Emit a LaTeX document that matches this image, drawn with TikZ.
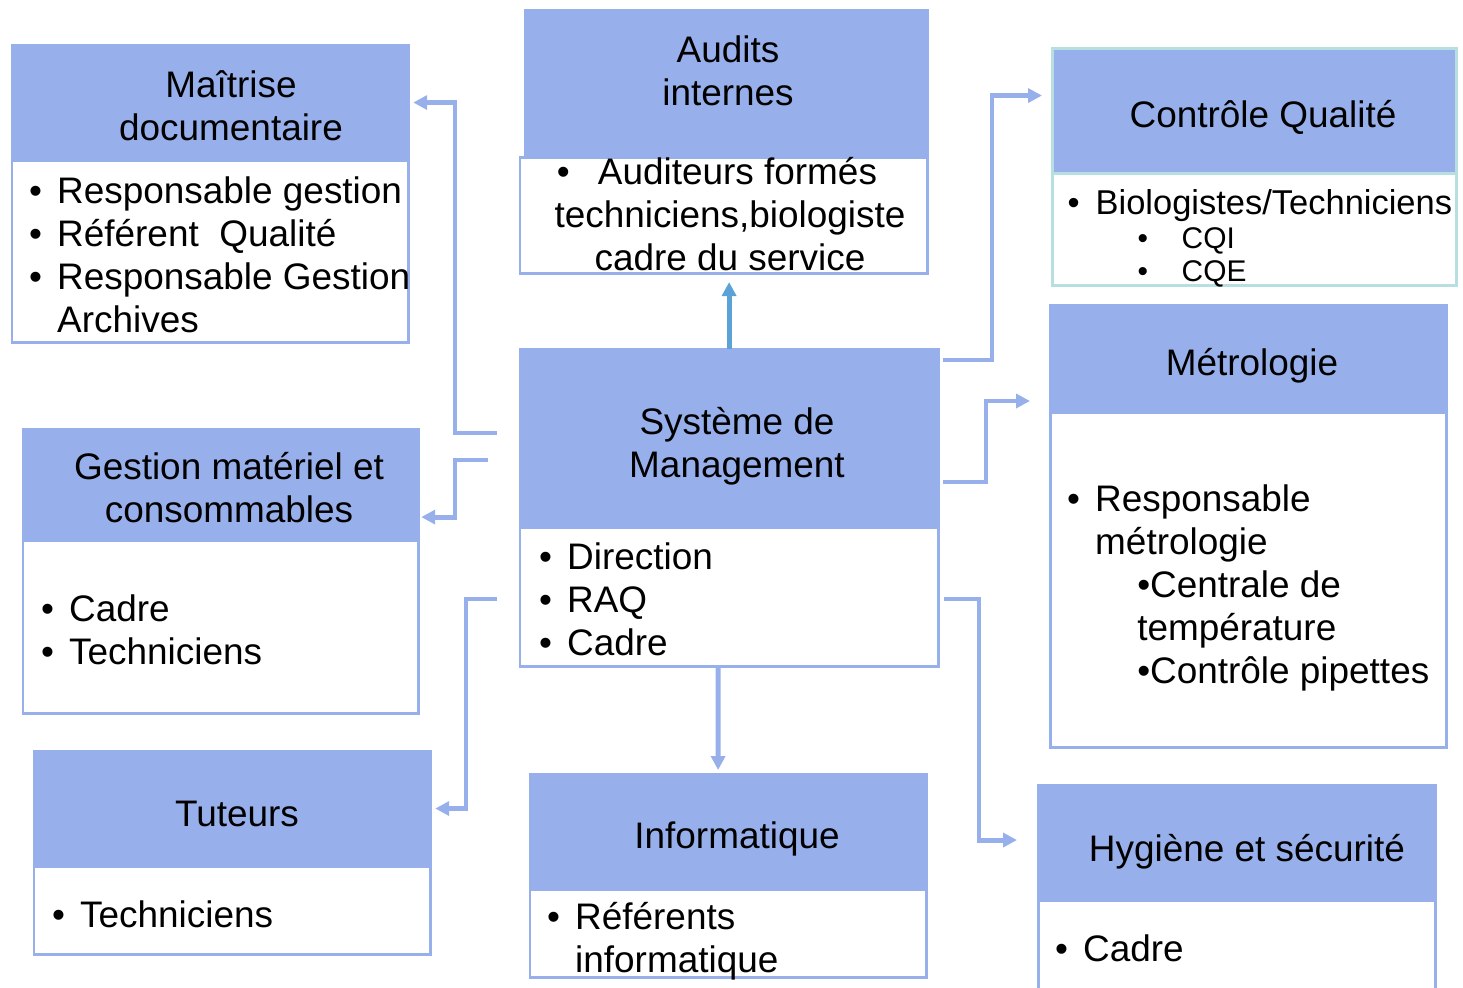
\documentclass[tikz,border=0pt]{standalone}
\usepackage{fontspec}
\setmainfont{Liberation Sans}
\usetikzlibrary{arrows.meta,calc}
\definecolor{bleuT}{RGB}{151,176,236}
\definecolor{bleuF}{RGB}{91,163,214}
\definecolor{turq}{RGB}{183,222,224}
\newcommand{\puce}{\makebox[0.28cm][l]{\textbullet}}
\newcommand{\retrait}{\hspace*{0.28cm}}
\begin{document}
\begin{tikzpicture}[x=0.01cm,y=-0.01cm,>={Triangle[length=0.14cm,width=0.14cm]},
	font=\fontsize{10.5}{12.2}\selectfont,
	tete/.style={draw=bleuT,fill=bleuT,line width=0.85pt,anchor=north west,inner sep=0pt,outer sep=0pt},
	corps/.style={draw=bleuT,fill=white,line width=0.85pt,anchor=north west,inner sep=0pt,outer sep=0pt},
	titre/.style={align=center,inner sep=0pt},
	liste/.style={align=left,anchor=north west,inner sep=0pt},
	lien/.style={draw=bleuT,line width=1.4pt}]
	\useasboundingbox (0,0) rectangle (1463,987);
	% les cadres
	\node[tete,minimum width=3.96cm,minimum height=1.15cm] (maitreH) at (12,45) {};
	\node[corps,minimum width=3.96cm,minimum height=1.82cm] (maitreB) at (12,160) {};
	\node[tete,minimum width=4.02cm,minimum height=1.47cm] (auditH) at (525,10) {};
	\node[corps,minimum width=4.07cm,minimum height=1.16cm] (auditB) at (520,157) {};
	\node[tete,draw=turq,minimum width=4.04cm,minimum height=1.25cm] (cqH) at (1052,48) {};
	\node[corps,draw=turq,minimum width=4.04cm,minimum height=1.12cm] (cqB) at (1052,173) {};
	\node[tete,minimum width=4.18cm,minimum height=1.78cm] (sysH) at (520,349) {};
	\node[corps,minimum width=4.18cm,minimum height=1.39cm] (sysB) at (520,527) {};
	\node[tete,minimum width=3.96cm,minimum height=1.07cm] (metH) at (1050,305) {};
	\node[corps,minimum width=3.96cm,minimum height=3.35cm] (metB) at (1050,412) {};
	\node[tete,minimum width=3.95cm,minimum height=1.11cm] (gestH) at (23,429) {};
	\node[corps,minimum width=3.95cm,minimum height=1.73cm] (gestB) at (23,540) {};
	\node[tete,minimum width=3.96cm,minimum height=1.15cm] (tutH) at (34,751) {};
	\node[corps,minimum width=3.96cm,minimum height=0.88cm] (tutB) at (34,866) {};
	\node[tete,minimum width=3.96cm,minimum height=1.15cm] (infoH) at (530,774) {};
	\node[corps,minimum width=3.96cm,minimum height=0.88cm] (infoB) at (530,889) {};
	\node[tete,minimum width=3.97cm,minimum height=1.15cm] (hygH) at (1038,785) {};
	\node[corps,minimum width=3.97cm,minimum height=1.10cm] (hygB) at (1038,900) {};
	% les titres
	\node[titre] (maitreT) at (231,106) {Maîtrise\hspace{0.32cm}\\documentaire};
	\node[titre] (auditT) at (728,71) {Audits\\internes};
	\node[titre] (cqT) at (1263,117) {Contrôle Qualité};
	\node[titre] (sysT) at (737,446) {Système de\\Management};
	\node[titre] (metT) at (1252,366) {Métrologie};
	\node[titre] (gestT) at (229,488) {Gestion matériel et\hspace{0.1cm}\\consommables};
	\node[titre] (tutT) at (237,814) {Tuteurs};
	\node[titre] (infoT) at (737,839) {Informatique};
	\node[titre] (hygT) at (1247,852) {Hygiène et sécurité};
	% les listes
	\node[liste] (maitreL) at (28.5,173) {\strut\puce Responsable gestion\\\puce Référent\ \ Qualité\\\puce Responsable Gestion\\\retrait Archives};
	\node[titre,anchor=north] (auditL) at (730,154) {\strut\textbullet\hspace{0.28cm}Auditeurs formés\rule{0.26cm}{0pt}\\techniciens,biologiste\\cadre du service};
	\node[liste,font=\fontsize{9.8}{12.2}\selectfont] (cqL) at (1067,184) {\strut\makebox[0.28cm][l]{\textbullet}Biologistes/Techniciens};
	\node[liste,font=\fontsize{8.5}{9.4}\selectfont] (cqS) at (1137,225) {\strut\makebox[0.44cm][l]{\textbullet}CQI\\\makebox[0.44cm][l]{\textbullet}CQE};
	\node[liste] (sysL) at (538.5,539) {\strut\puce Direction\\\puce RAQ\\\puce Cadre};
	\node[liste] (metL) at (1066.5,481) {\strut\puce Responsable\\\retrait métrologie\\\hspace*{0.7cm}\textbullet Centrale de\\\hspace*{0.7cm}température\\\hspace*{0.7cm}\textbullet Contrôle pipettes};
	\node[liste] (gestL) at (40.5,591) {\strut\puce Cadre\\\puce Techniciens};
	\node[liste] (tutL) at (51.5,897) {\strut\puce Techniciens};
	\node[liste] (infoL) at (546.5,899) {\strut\puce Référents\\\retrait informatique};
	\node[liste] (hygL) at (1054.5,931) {\strut\puce Cadre};
	% les liaisons
	\coordinate (d1) at (497,433);
	\coordinate (d2) at (488,460);
	\coordinate (d3) at (497,599);
	\coordinate (d6) at (943,360);
	\coordinate (d7) at (943,482);
	\coordinate (d8) at (944,599);
	\draw[lien,->] (d1) -- ++(-42,0) |- ([xshift=0.05cm]maitreH.east);
	\draw[lien,->] (d2) -- ++(-33,0) |- ([shift={(3,-23)}]gestH.south east);
	\draw[lien,->] (d3) -- ++(-31,0) |- ([xshift=0.05cm]tutH.east);
	\draw[lien,->] ([xshift=-0.11cm]sysB.south) -- ([shift={(-10,-4)}]infoH.north);
	\draw[lien,draw=bleuF,->] (sysH.north) -- ($(sysH.north |- auditB.south)+(0,9)$);
	\draw[lien,->] (d6) -- ++(49,0) |- ([shift={(-10,-15)}]cqH.west);
	\draw[lien,->] (d7) -- ++(43,0) |- ([shift={(-20,-11)}]metB.north west);
	\draw[lien,->] (d8) -- ++(35,0) |- ([shift={(-21,-2.5)}]hygH.west);
\end{tikzpicture}
\end{document}
